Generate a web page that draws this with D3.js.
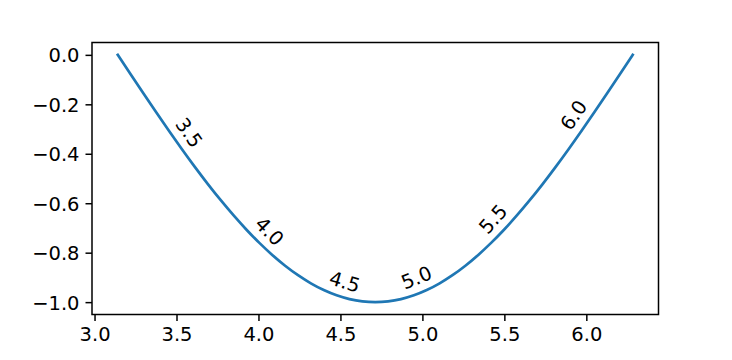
<!DOCTYPE html>
<html>
<head>
<meta charset="utf-8">
<script src="https://cdn.jsdelivr.net/npm/d3@7"></script>
<style>
  body { margin: 0; background: #fff; }
  text { font-family: "DejaVu Sans", sans-serif; }
</style>
</head>
<body>
<div id="graf"></div>
<script>
// Datos (curva)
const xs = [3.1416, 3.2201, 3.2987, 3.3772, 3.4558, 3.5343, 3.6128, 3.6914, 3.7699, 3.8485,
  3.9270, 4.0055, 4.0841, 4.1626, 4.2412, 4.3197, 4.3982, 4.4768, 4.5553, 4.6339,
  4.7124, 4.7909, 4.8695, 4.9480, 5.0265, 5.1051, 5.1836, 5.2622, 5.3407, 5.4192,
  5.4978, 5.5763, 5.6549, 5.7334, 5.8119, 5.8905, 5.9690, 6.0476, 6.1261, 6.2046, 6.2832]
const ys = [0, -0.0785, -0.1564, -0.2334, -0.3090, -0.3827, -0.4540, -0.5225, -0.5878, -0.6494,
  -0.7071, -0.7604, -0.8090, -0.8526, -0.8910, -0.9239, -0.9511, -0.9724, -0.9877, -0.9969,
  -1.0, -0.9969, -0.9877, -0.9724, -0.9511, -0.9239, -0.8910, -0.8526, -0.8090, -0.7604,
  -0.7071, -0.6494, -0.5878, -0.5225, -0.4540, -0.3827, -0.3090, -0.2334, -0.1564, -0.0785, 0]
const labelXs = [3.5, 4.0, 4.5, 5.0, 5.5, 6.0]
const xTicks = [3.0, 3.5, 4.0, 4.5, 5.0, 5.5, 6.0]
const yTicks = [0.0, -0.2, -0.4, -0.6, -0.8, -1.0]

// Dimensiones
const anchoTotal = 732
const altoTotal = 360
const margins = { top: 42.5, right: 73.5, bottom: 45.5, left: 92 }
const ancho = anchoTotal - margins.left - margins.right
const alto = altoTotal - margins.top - margins.bottom
const fontPx = 19.5

const svg = d3.select("#graf")
  .append("svg")
  .attr("width", anchoTotal)
  .attr("height", altoTotal)

const g = svg.append("g")
  .attr("transform", `translate(${margins.left}, ${margins.top})`)

// Escaladores (margen 5% como matplotlib)
const xMin = d3.min(xs), xMax = d3.max(xs)
const yMin = d3.min(ys), yMax = d3.max(ys)
const xPad = (xMax - xMin) * 0.05
const yPad = (yMax - yMin) * 0.05
const x = d3.scaleLinear().domain([xMin - xPad, xMax + xPad]).range([0, ancho])
const y = d3.scaleLinear().domain([yMin - yPad, yMax + yPad]).range([alto, 0])

const fmt = (d) => d3.format(".1f")(d).replace("-", "\u2212")

// Ejes
const xAxis = d3.axisBottom(x).tickValues(xTicks).tickFormat(fmt).tickSize(6.5).tickPadding(6)
const yAxis = d3.axisLeft(y).tickValues(yTicks).tickFormat(fmt).tickSize(6.5).tickPadding(6)

const xAxisGroup = g.append("g").attr("transform", `translate(0, ${alto})`).call(xAxis)
const yAxisGroup = g.append("g").call(yAxis)

;[xAxisGroup, yAxisGroup].forEach((ax) => {
  ax.select(".domain").remove()
  ax.selectAll(".tick line").attr("stroke", "#000").attr("stroke-width", 1.5)
  ax.selectAll(".tick text").attr("fill", "#000").style("font-size", fontPx + "px")
})
xAxisGroup.selectAll(".tick text").attr("dy", "0.72em")
yAxisGroup.selectAll(".tick text").attr("dy", "0.36em")

// Línea
const pts = xs.map((d, i) => [d, ys[i]])
const line = d3.line().x((d) => x(d[0])).y((d) => y(d[1])).curve(d3.curveMonotoneX)

g.append("path")
  .datum(pts)
  .attr("fill", "none")
  .attr("stroke", "#1f77b4")
  .attr("stroke-width", 2.7)
  .attr("stroke-linecap", "square")
  .attr("d", line)

// Etiquetas sobre la línea
const etiquetas = g.append("g")
labelXs.forEach((xv) => {
  let i = d3.bisectRight(xs, xv) - 1
  i = Math.max(0, Math.min(xs.length - 2, i))
  const t = (xv - xs[i]) / (xs[i + 1] - xs[i])
  const yv = ys[i] + t * (ys[i + 1] - ys[i])
  const px = x(xv), py = y(yv)
  const dx = x(xs[i + 1]) - x(xs[i])
  const dy = y(ys[i + 1]) - y(ys[i])
  const ang = Math.atan2(dy, dx)
  const off = 15.5
  const cx = px + off * Math.sin(ang)
  const cy = py - off * Math.cos(ang)
  etiquetas.append("text")
    .attr("transform", `translate(${cx}, ${cy}) rotate(${ang * 180 / Math.PI})`)
    .attr("text-anchor", "middle")
    .attr("dy", "0.36em")
    .style("font-size", fontPx + "px")
    .attr("fill", "#000")
    .text(d3.format(".1f")(xv))
})

// Marco
g.append("rect")
  .attr("width", ancho)
  .attr("height", alto)
  .attr("fill", "none")
  .attr("stroke", "#000")
  .attr("stroke-width", 1.5)
</script>
</body>
</html>
